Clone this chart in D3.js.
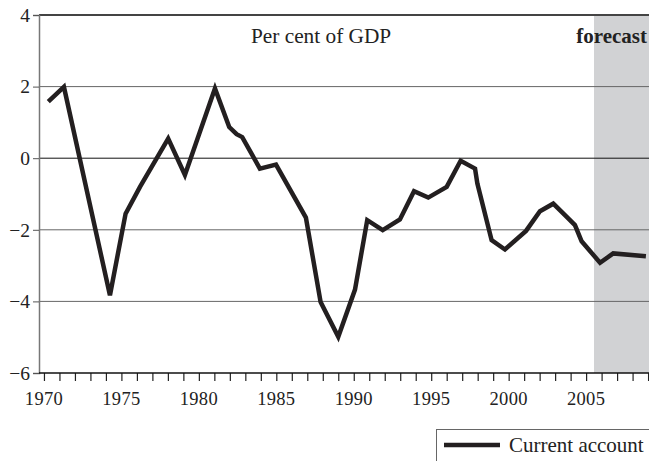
<!DOCTYPE html>
<html>
<head>
<meta charset="utf-8">
<script src="https://cdn.jsdelivr.net/npm/d3@7"></script>
<style>
  body { margin: 0; background: #fff; }
  svg { display: block; font-family: "Liberation Serif", "Times New Roman", serif; }
</style>
</head>
<body>
<svg id="chart" width="649" height="461"></svg>
<script>
// current account, per cent of GDP
const years = [1970.28, 1971.29, 1974.26, 1975.27, 1976.2, 1978.02, 1979.1, 1981.04, 1981.96, 1982.44,
  1982.8, 1983.94, 1984.98, 1986.91, 1987.86, 1989.0, 1990.08, 1990.87, 1991.87, 1992.98,
  1993.89, 1994.81, 1996.0, 1996.9, 1997.83, 1997.98, 1998.9, 1999.76, 2001.12, 2002.02,
  2002.88, 2003.7, 2004.28, 2004.71, 2005.9, 2006.75, 2008.86];
const values = [1.58, 1.99, -3.83, -1.55, -0.8, 0.55, -0.47, 1.95, 0.87, 0.67,
  0.59, -0.29, -0.18, -1.66, -4.02, -4.99, -3.67, -1.73, -2.01, -1.71,
  -0.92, -1.1, -0.8, -0.07, -0.29, -0.71, -2.29, -2.55, -2.03, -1.48,
  -1.27, -1.62, -1.87, -2.32, -2.92, -2.66, -2.74];

const forecastStart = 2005.51;
const yTicks = [4, 2, 0, -2, -4, -6];
const xLabels = [1970, 1975, 1980, 1985, 1990, 1995, 2000, 2005];
const xMinor = d3.range(1970, 2010);

const svg = d3.select("#chart");
const plotLeft = 39, plotRight = 649, plotTop = 15, plotBottom = 373;

let x = d3.scaleLinear().domain([1969.68, 2009.06]).range([plotLeft, plotRight]);
let y = d3.scaleLinear().domain([-6, 4]).range([plotBottom, plotTop]);

// forecast shading
svg.append("rect")
  .attr("x", x(forecastStart)).attr("y", plotTop)
  .attr("width", plotRight - x(forecastStart)).attr("height", plotBottom - plotTop)
  .attr("fill", "#d1d2d4");

// horizontal grid lines
svg.selectAll("line.grid")
  .data(yTicks.filter((d) => d !== -6))
  .enter()
  .append("line")
  .attr("class", "grid")
  .attr("x1", plotLeft).attr("x2", plotRight)
  .attr("y1", (d) => y(d)).attr("y2", (d) => y(d))
  .attr("stroke", (d) => d === 4 ? "#444" : (d === 0 ? "#111" : "#666"))
  .attr("stroke-width", (d) => d === 4 ? 2 : 1);

// y axis
let yAxis = svg.append("g")
  .attr("transform", "translate(" + plotLeft + ",0)")
  .call(d3.axisLeft(y).tickValues(yTicks).tickSize(6).tickPadding(3)
    .tickFormat((d) => d < 0 ? "\u2212" + Math.abs(d) : d));
yAxis.select(".domain").attr("stroke", "#777").attr("stroke-width", 1.5);
yAxis.selectAll(".tick line").attr("stroke", "#555");
yAxis.selectAll("text").attr("font-size", 19.5).attr("fill", "#222")
  .attr("font-family", "Liberation Serif");

// x axis
let xAxis = svg.append("g")
  .attr("transform", "translate(0," + plotBottom + ")")
  .call(d3.axisBottom(x).tickValues(xMinor).tickSize(8).tickFormat(""));
xAxis.select(".domain").remove();
xAxis.selectAll(".tick line").attr("stroke", "#222").attr("stroke-width", 1.2);

svg.append("line")
  .attr("x1", plotLeft).attr("x2", plotRight)
  .attr("y1", plotBottom).attr("y2", plotBottom)
  .attr("stroke", "#111").attr("stroke-width", 1.5);

svg.selectAll("text.xlab")
  .data(xLabels)
  .enter()
  .append("text")
  .attr("class", "xlab")
  .attr("x", (d) => x(d)).attr("y", 405)
  .attr("text-anchor", "middle")
  .attr("font-size", 18.5).attr("letter-spacing", 0.3).attr("fill", "#222")
  .text((d) => d);

// the series
let line = d3.line().x((d) => x(d[0])).y((d) => y(d[1]));
svg.append("path")
  .datum(d3.zip(years, values))
  .attr("d", line)
  .attr("fill", "none")
  .attr("stroke", "#231f20")
  .attr("stroke-width", 4.5)
  .attr("stroke-linejoin", "miter");

// labels
svg.append("text")
  .attr("x", 251).attr("y", 43)
  .attr("font-size", 21.3).attr("fill", "#222")
  .text("Per cent of GDP");

svg.append("text")
  .attr("x", 647).attr("y", 43)
  .attr("text-anchor", "end")
  .attr("font-size", 21).attr("font-weight", "bold").attr("fill", "#222")
  .text("forecast");

// legend
let legend = svg.append("g");
legend.append("rect")
  .attr("x", 436.5).attr("y", 429.5)
  .attr("width", 230).attr("height", 60)
  .attr("fill", "none").attr("stroke", "#666").attr("stroke-width", 1);
legend.append("line")
  .attr("x1", 444).attr("x2", 500)
  .attr("y1", 445).attr("y2", 445)
  .attr("stroke", "#231f20").attr("stroke-width", 4.5);
legend.append("text")
  .attr("x", 509).attr("y", 452)
  .attr("font-size", 21).attr("fill", "#222")
  .text("Current account");
</script>
</body>
</html>
